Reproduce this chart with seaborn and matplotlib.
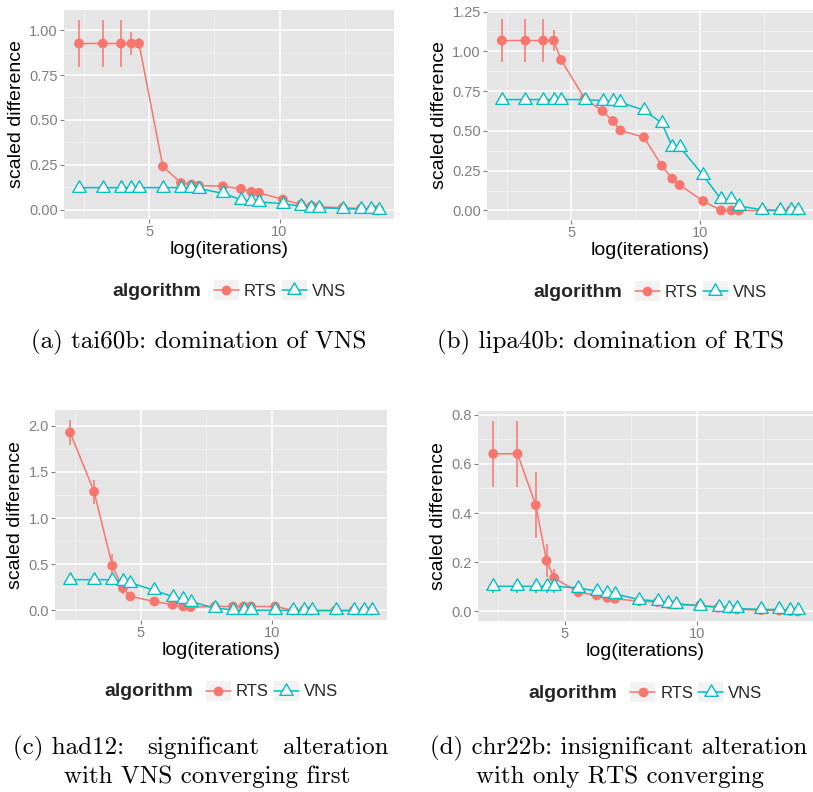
import numpy as np
import pandas as pd
import matplotlib
matplotlib.use("Agg")
import matplotlib.pyplot as plt
import seaborn as sns
from matplotlib.lines import Line2D
from matplotlib.patches import Rectangle
from matplotlib.path import Path
from matplotlib.offsetbox import DrawingArea
from matplotlib.legend_handler import HandlerLine2D
from matplotlib.ticker import MultipleLocator, FormatStrFormatter

# ---------------- data ----------------
log_iterations = [2.303, 3.219, 3.912, 4.317, 4.605, 5.521, 6.215, 6.620, 6.908,
                  7.824, 8.517, 8.923, 9.210, 10.127, 10.820, 11.225, 11.513,
                  12.429, 13.122, 13.528, 13.816]
algorithms = ["RTS", "VNS"]

# (a) tai60b
a_rts = [0.926, 0.926, 0.926, 0.926, 0.926, 0.240, 0.148, 0.139, 0.133, 0.130, 0.115,
         0.098, 0.093, 0.056, 0.028, 0.019, 0.015, 0.010, 0.005, 0.002, 0.000]
a_rts_err = [0.133, 0.133, 0.133, 0.065, 0.030, 0.005, 0.005, 0.005, 0.005, 0.005, 0.005,
             0.005, 0.005, 0.005, 0.005, 0.005, 0.005, 0.005, 0.003, 0.002, 0.000]
a_vns = [0.122, 0.122, 0.122, 0.122, 0.122, 0.122, 0.122, 0.120, 0.117, 0.090, 0.055,
         0.046, 0.042, 0.033, 0.018, 0.010, 0.010, 0.005, 0.002, 0.001, 0.000]
a_vns_err = [0.025, 0.025, 0.025, 0.025, 0.025, 0.010, 0.010, 0.010, 0.010, 0.008, 0.008,
             0.008, 0.008, 0.006, 0.005, 0.004, 0.004, 0.003, 0.002, 0.001, 0.000]

# (b) lipa40b
b_rts = [1.068, 1.068, 1.068, 1.068, 0.946, 0.703, 0.625, 0.562, 0.503, 0.460, 0.281,
         0.200, 0.160, 0.059, 0.000, 0.000, 0.000, 0.000, 0.000, 0.000, 0.000]
b_rts_err = [0.135, 0.135, 0.135, 0.066, 0.020, 0.005, 0.005, 0.005, 0.005, 0.005, 0.005,
             0.005, 0.005, 0.005, 0.000, 0.000, 0.000, 0.000, 0.000, 0.000, 0.000]
b_vns = [0.697, 0.697, 0.697, 0.697, 0.697, 0.697, 0.690, 0.685, 0.680, 0.630, 0.550,
         0.400, 0.400, 0.220, 0.070, 0.070, 0.027, 0.005, 0.000, 0.000, 0.000]
b_vns_err = [0.005] * 18 + [0.000, 0.000, 0.000]

# (c) had12
c_rts = [1.925, 1.285, 0.484, 0.242, 0.152, 0.097, 0.061, 0.043, 0.036, 0.043, 0.043,
         0.043, 0.043, 0.043, 0.000, 0.000, 0.000, 0.000, 0.000, 0.000, 0.000]
c_rts_err = [0.137, 0.130, 0.125, 0.060, 0.015, 0.008, 0.008, 0.008, 0.008, 0.008, 0.008,
             0.008, 0.008, 0.008, 0.000, 0.000, 0.000, 0.000, 0.000, 0.000, 0.000]
c_vns = [0.333, 0.333, 0.333, 0.314, 0.300, 0.217, 0.150, 0.120, 0.097, 0.025, 0.007,
         0.004, 0.003, 0.002, 0.001, 0.000, 0.000, 0.000, 0.000, 0.000, 0.000]
c_vns_err = [0.020] * 9 + [0.005] * 5 + [0.000] * 7

# (d) chr22b
d_rts = [0.641, 0.641, 0.432, 0.206, 0.136, 0.078, 0.065, 0.055, 0.051, 0.042, 0.038,
         0.030, 0.028, 0.025, 0.015, 0.011, 0.008, 0.005, 0.003, 0.001, 0.000]
d_rts_err = [0.134, 0.134, 0.133, 0.068, 0.035, 0.006, 0.005, 0.005, 0.005, 0.005, 0.005,
             0.004, 0.004, 0.004, 0.003, 0.003, 0.002, 0.002, 0.001, 0.001, 0.000]
d_vns = [0.102, 0.102, 0.102, 0.102, 0.102, 0.096, 0.082, 0.075, 0.071, 0.048, 0.042,
         0.035, 0.032, 0.022, 0.019, 0.015, 0.012, 0.008, 0.008, 0.005, 0.005]
d_vns_err = [0.027, 0.027, 0.027, 0.027, 0.027, 0.010, 0.008, 0.008, 0.008, 0.006, 0.006,
             0.005, 0.005, 0.004, 0.004, 0.003, 0.003, 0.002, 0.002, 0.002, 0.002]

caption_a = "(a) tai60b: domination of VNS"
caption_b = "(b) lipa40b: domination of RTS"
caption_c1 = ["(c) had12:", "significant", "alteration"]
caption_c2 = "with VNS converging first"
caption_d1 = "(d) chr22b: insignificant alteration"
caption_d2 = "with only RTS converging"

# ---------------- style ----------------
sns.set_theme(style="white")
plt.rcParams["font.family"] = ["Liberation Sans", "DejaVu Sans"]

RTS_C = "#F8766D"
VNS_C = "#00BFC4"
palette = {"RTS": RTS_C, "VNS": VNS_C}
TRI = Path([(-1.0, -0.577), (1.0, -0.577), (0.0, 1.155), (-1.0, -0.577)], closed=True)

W, H = 813, 792
fig = plt.figure(figsize=(W / 100, H / 100), dpi=100)
fig.patch.set_facecolor("white")


def add_ax(l, t, r, b):
    return fig.add_axes([l / W, 1 - b / H, (r - l) / W, (b - t) / H])


class KeyHandler(HandlerLine2D):
    def create_artists(self, legend, orig_handle, xdescent, ydescent, width,
                       height, fontsize, trans):
        arts = super().create_artists(legend, orig_handle, xdescent, ydescent,
                                      width, height, fontsize, trans)
        pad = 3.0
        rect = Rectangle((-xdescent, -ydescent - pad), width, height + 2 * pad,
                         facecolor="#F2F2F2", edgecolor="none", transform=trans)
        return [rect] + list(arts)


def panel(rect, rts, rts_err, vns, vns_err, ylim, ystep, yfmt):
    l, t, r, b = rect
    ax = add_ax(l, t, r, b)
    n = len(log_iterations)
    df = pd.DataFrame({
        "log_iter": log_iterations * 2,
        "diff": rts + vns,
        "err": rts_err + vns_err,
        "algorithm": ["RTS"] * n + ["VNS"] * n,
    })
    ax.set_facecolor("#E5E5E5")
    for alg in algorithms:
        sub = df[df.algorithm == alg]
        ax.vlines(sub.log_iter, sub["diff"] - sub.err, sub["diff"] + sub.err,
                  colors=palette[alg], linewidth=1.1, zorder=2)
    sns.lineplot(data=df, x="log_iter", y="diff", hue="algorithm", palette=palette,
                 ax=ax, legend=False, linewidth=1.1, estimator=None, zorder=2.5)
    sub = df[df.algorithm == "RTS"]
    sns.scatterplot(x=sub.log_iter, y=sub["diff"], ax=ax, color=RTS_C, s=50,
                    marker="o", edgecolor="none", linewidth=0, zorder=3, legend=False)
    sub = df[df.algorithm == "VNS"]
    sns.scatterplot(x=sub.log_iter, y=sub["diff"], ax=ax, color="white", s=125,
                    marker=TRI, edgecolor=VNS_C, linewidth=1.0, zorder=3.5, legend=False)

    ax.set_xlim(1.727, 14.392)
    ax.set_ylim(*ylim)
    ax.xaxis.set_major_locator(MultipleLocator(5))
    ax.xaxis.set_minor_locator(MultipleLocator(2.5))
    ax.yaxis.set_major_locator(MultipleLocator(ystep))
    ax.yaxis.set_minor_locator(MultipleLocator(ystep / 2))
    ax.yaxis.set_major_formatter(FormatStrFormatter(yfmt))
    ax.xaxis.set_major_formatter(FormatStrFormatter("%d"))
    ax.grid(which="major", color="white", linewidth=1.1)
    ax.grid(which="minor", color="#F2F2F2", linewidth=0.6)
    ax.set_axisbelow(True)
    for s in ax.spines.values():
        s.set_visible(False)
    ax.tick_params(which="major", length=3.0, width=0.8, color="#7F7F7F",
                   labelcolor="#7F7F7F", labelsize=10.5, pad=1.5,
                   bottom=True, left=True)
    ax.tick_params(which="minor", length=0, bottom=False, left=False)
    ax.set_xlabel("log(iterations)", fontsize=14, labelpad=1, color="black")
    ax.set_ylabel("scaled difference", fontsize=14, labelpad=3, color="black")

    # legend
    h_rts = Line2D([], [], color=RTS_C, linewidth=1.1, marker="o", markersize=7.0,
                   markeredgewidth=0)
    h_vns = Line2D([], [], color=VNS_C, linewidth=1.1, marker=TRI, markersize=11,
                   markerfacecolor="white", markeredgecolor=VNS_C, markeredgewidth=1.0)
    cx = (l + r) / 2 / W
    cy = 1 - (b + 72) / H
    leg = ax.legend([h_rts, h_vns], algorithms, title="algorithm", ncol=2,
                    loc="center", bbox_to_anchor=(cx, cy),
                    bbox_transform=fig.transFigure, frameon=False, fontsize=12,
                    title_fontsize=14, handlelength=1.5, handletextpad=0.3,
                    columnspacing=0.3, borderpad=0, numpoints=1,
                    handler_map={Line2D: KeyHandler()})
    leg.get_title().set_fontweight("bold")
    try:
        box = leg.get_children()[0]
        title_box, hpack = box.get_children()[:2]
        box._children = [hpack]
        hpack._children = ([title_box, DrawingArea(2, 1)]
                           + list(hpack.get_children()))
    except Exception:
        pass
    return ax


panel((64, 10, 394, 219), a_rts, a_rts_err, a_vns, a_vns_err,
      (-0.053, 1.113), 0.25, "%.2f")
panel((487, 10, 813, 220), b_rts, b_rts_err, b_vns, b_vns_err,
      (-0.06, 1.26), 0.25, "%.2f")
panel((55, 410, 387, 620), c_rts, c_rts_err, c_vns, c_vns_err,
      (-0.103, 2.168), 0.5, "%.1f")
panel((478, 411, 813, 621), d_rts, d_rts_err, d_vns, d_vns_err,
      (-0.039, 0.815), 0.2, "%.1f")

# ---------------- captions ----------------
CAP = dict(family="cmr10", fontsize=18, color="black")


def ftxt(x, y, s, ha="center", va="center"):
    return fig.text(x / W, 1 - y / H, s, ha=ha, va=va, **CAP)


ftxt(199, 342, caption_a)
ftxt(610, 342, caption_b)
ftxt(207, 777, caption_c2)
ftxt(619, 748, caption_d1)
ftxt(620, 777, caption_d2)

# justified first line of caption (c)
renderer = fig.canvas.get_renderer()
x0, x1 = 13, 388
parts = [ftxt(0, 748, s, ha="left") for s in caption_c1]
widths = [p.get_window_extent(renderer).width for p in parts]
gap = (x1 - x0 - sum(widths)) / (len(parts) - 1)
x = x0
for p, w in zip(parts, widths):
    p.set_x(x / W)
    x += w + gap

fig.savefig("out.png", dpi=100)
